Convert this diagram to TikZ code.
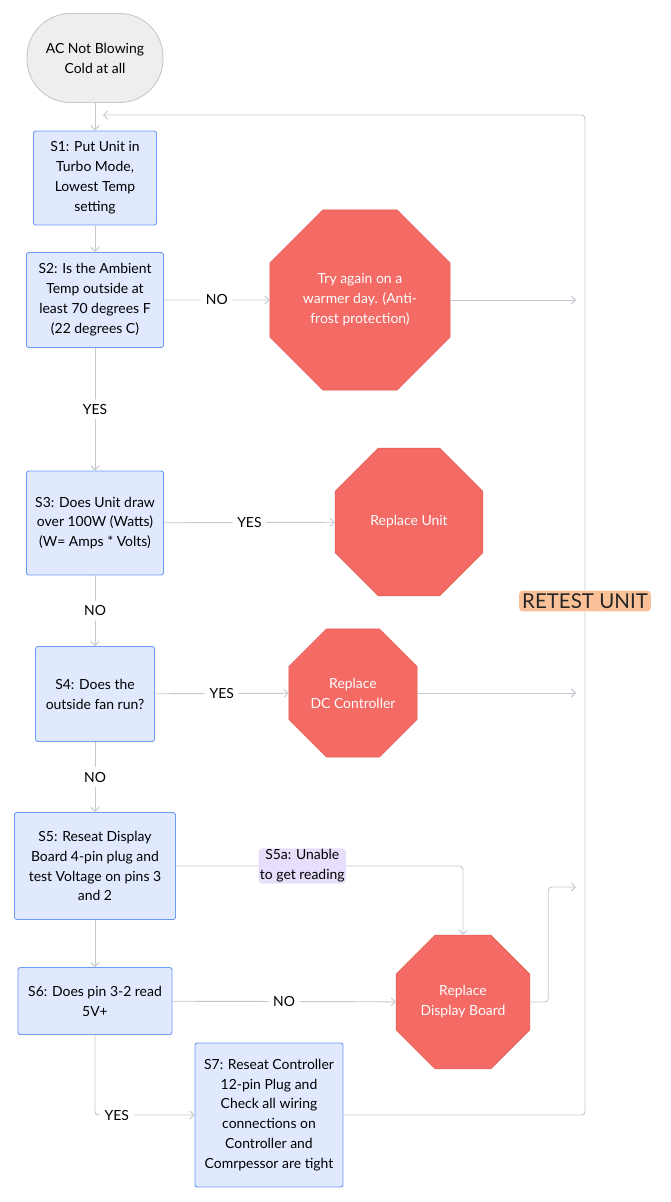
\documentclass[tikz,border=0pt]{standalone}
\usepackage{fontspec}
\setmainfont{Lato}
\usetikzlibrary{positioning,calc,arrows.meta,shapes.geometric}

\definecolor{stepfill}{HTML}{E1E9FF}
\definecolor{stepline}{HTML}{6E9BF5}
\definecolor{stopfill}{HTML}{F46A64}
\definecolor{stopline}{HTML}{E25B56}
\definecolor{startfill}{HTML}{EEEEEF}
\definecolor{startline}{HTML}{C9C9CC}
\definecolor{wirecol}{HTML}{C6C8D0}
\definecolor{retestfill}{HTML}{FAC198}
\definecolor{notefill}{HTML}{E6DEFA}
\newcommand\mainsz{\fontsize{11.9}{17}\selectfont}

\begin{document}
\begin{tikzpicture}[x=0.03cm,y=-0.03cm,
    startbox/.style={rectangle,rounded corners=1.3cm,draw=startline,fill=startfill,line width=0.8pt,align=center,font=\mainsz,minimum width=4.08cm,minimum height=2.67cm},
    stepbox/.style={rectangle,rounded corners=2pt,draw=stepline,fill=stepfill,line width=0.8pt,align=center,inner sep=0pt,font=\mainsz},
    stopbox/.style={regular polygon,regular polygon sides=8,draw=stopline,fill=stopfill,text=white,align=center,inner sep=0pt,font=\mainsz},
    wire/.style={draw=wirecol,line width=0.8pt,-{Straight Barb[length=3.5pt,width=7pt]},rounded corners=3pt},
    lbl/.style={fill=white,inner sep=4pt,font=\mainsz},
    note/.style={fill=notefill,inner sep=1pt,align=center,font=\mainsz},
    retest/.style={fill=retestfill,inner sep=2.5pt,font=\fontsize{17.5}{20}\selectfont,text=black!85}]

\useasboundingbox (0,0) rectangle (670,1202);

% Steps down the left side
\node[startbox] (start) at (95,58) {AC Not Blowing\\Cold at all};
\node[stepbox,minimum width=3.69cm,minimum height=2.82cm] (s1) at (95,178) {S1: Put Unit in\\Turbo Mode,\\Lowest Temp\\setting};
\node[stepbox,minimum width=4.11cm,minimum height=2.85cm] (s2) at (95,300) {S2: Is the Ambient\\Temp outside at\\least 70 degrees F\\(22 degrees C)};
\node[stepbox,minimum width=4.11cm,minimum height=3.12cm] (s3) at (95,523) {S3: Does Unit draw\\over 100W (Watts)\\(W= Amps * Volts)};
\node[stepbox,minimum width=3.57cm,minimum height=2.85cm] (s4) at (95,694) {S4: Does the\\outside fan run?};
\node[stepbox,minimum width=4.83cm,minimum height=3.21cm] (s5) at (95,866) {S5: Reseat Display\\Board 4-pin plug and\\test Voltage on pins 3\\and 2};
\node[stepbox,minimum width=4.62cm,minimum height=2.01cm] (s6) at (95,1001) {S6: Does pin 3-2 read\\5V+};
\node[stepbox,minimum width=4.44cm,minimum height=4.32cm] (s7) at (269,1115) {S7: Reseat Controller\\12-pin Plug and\\Check all wiring\\connections on\\Controller and\\Comrpessor are tight};

% Stop signs
\node[stopbox,minimum size=5.85cm] (tryagain) at (360,300) {Try again on a\\warmer day. (Anti-\\frost protection)};
\node[stopbox,minimum size=4.8cm] (unit) at (409,522) {Replace Unit};
\node[stopbox,minimum size=4.16cm] (dcctl) at (353,693) {Replace\\DC Controller};
\node[stopbox,minimum size=4.35cm] (disp) at (463,1002) {Replace\\Display Board};

% Rail points
\coordinate (rail) at (576,0);
\coordinate (loop) at (585,115);
\coordinate (join) at (103,115);

% Connectors
\draw[wire] (start) -- (s1);
\draw[wire] (s1) -- (s2);
\draw[wire] (s2) -- node[lbl]{NO} (tryagain);
\draw[wire] (s2) -- node[lbl]{YES} (s3);
\draw[wire] (s3) -- node[lbl]{YES} (unit);
\draw[wire] (s3) -- node[lbl]{NO} (s4);
\draw[wire] (s4) -- node[lbl]{YES} (dcctl);
\draw[wire] (s4) -- node[lbl]{NO} (s5);
\draw[wire] (s5) -- (s6);
\draw[wire] (s6) -- node[lbl]{NO} (disp);
\draw[wire] (s5) -| node[note,pos=0.22] (s5a) {S5a: Unable\\to get reading} (disp);
\draw[wire] (s6) |- node[lbl,pos=0.61]{YES} (s7);

% Back to the top
\draw[wire] (tryagain.east) -- (tryagain.east -| rail);
\draw[wire] (dcctl.east) -- (dcctl.east -| rail);
\draw[wire] (disp.east) -- ++(18,0) |- (rail |- 0,887);
\draw[wire] (s7.east) -| node[retest,pos=0.757] (retestlbl) {RETEST UNIT} (loop) -- (join);

\end{tikzpicture}
\end{document}
